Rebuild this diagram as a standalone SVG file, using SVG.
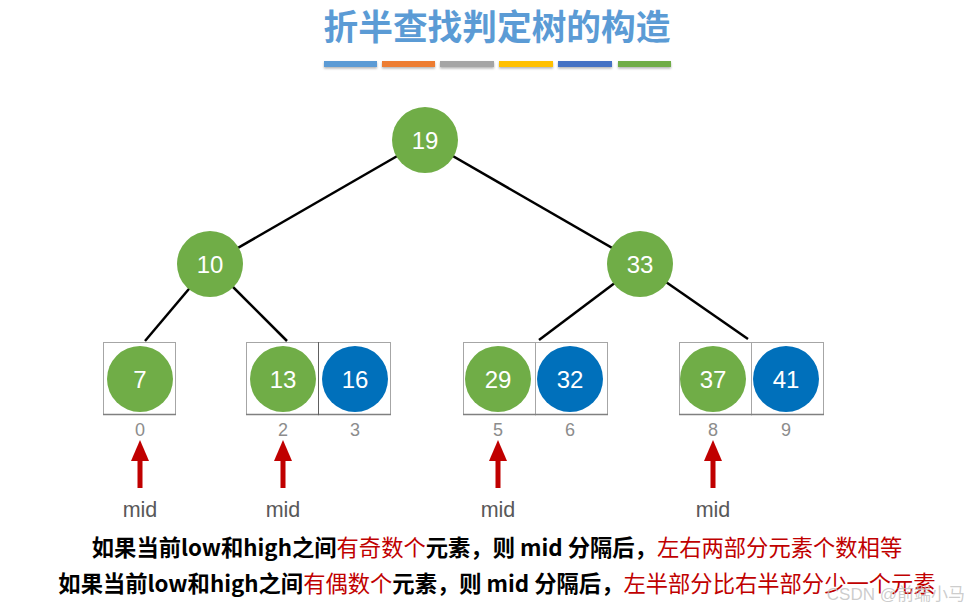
<svg xmlns="http://www.w3.org/2000/svg" width="969" height="611" viewBox="0 0 969 611">
<style>
.g{fill:#70AD47}
.b{fill:#0070BB}
.nt{font-family:"Liberation Sans",Arial,sans-serif;font-size:24px;fill:#fff;text-anchor:middle;dominant-baseline:central}
.box{fill:none;stroke:#A6A6A6;stroke-width:1}
.idx{font-family:"Liberation Sans",Arial,sans-serif;font-size:18px;fill:#8C8C8C;text-anchor:middle}
.mid{font-family:"Liberation Sans",Arial,sans-serif;font-size:21.5px;fill:#595959;text-anchor:middle}
.edge{stroke:#000;stroke-width:2.5;fill:none}
.arr{fill:#C00000}
.txt{font-family:"Noto Sans CJK SC","Liberation Sans",sans-serif;font-size:22.3px;font-weight:bold;fill:#000}
.red{fill:#C00000;font-weight:normal}
</style>
<defs>
<filter id="sh" x="-10%" y="-50%" width="120%" height="250%"><feDropShadow dx="0" dy="1.5" stdDeviation="1" flood-color="#000" flood-opacity="0.3"/></filter>
<g id="arrow"><rect x="-2.5" y="460" width="5" height="28"/><polygon points="0,440 -9,461 9,461"/></g>
</defs>
<rect width="969" height="611" fill="#fff"/>
<text x="497" y="40" font-family="Noto Sans CJK SC,sans-serif" font-size="34.7" font-weight="bold" fill="#5B9BD5" text-anchor="middle">折半查找判定树的构造</text>
<g id="bars" filter="url(#sh)">
<rect x="324" y="61" width="53" height="6" fill="#5B9BD5"/>
<rect x="382" y="61" width="53" height="6" fill="#ED7D31"/>
<rect x="440" y="61" width="54" height="6" fill="#A5A5A5"/>
<rect x="499" y="61" width="54" height="6" fill="#FFC000"/>
<rect x="558" y="61" width="54" height="6" fill="#4472C4"/>
<rect x="618" y="61" width="53" height="6" fill="#70AD47"/>
</g>
<g id="connectors">
<line class="edge" x1="425" y1="140" x2="210" y2="264"/>
<line class="edge" x1="425" y1="140" x2="640" y2="264"/>
<line class="edge" x1="210" y1="264" x2="145" y2="341"/>
<line class="edge" x1="210" y1="264" x2="287" y2="341"/>
<line class="edge" x1="640" y1="264" x2="539" y2="340"/>
<line class="edge" x1="640" y1="264" x2="748" y2="339"/>
</g>
<g id="node-19"><circle class="g" cx="425" cy="140" r="33"/><text class="nt" x="425" y="140">19</text></g>
<g id="node-10"><circle class="g" cx="210" cy="264" r="33"/><text class="nt" x="210" y="264">10</text></g>
<g id="node-33"><circle class="g" cx="640" cy="264" r="33"/><text class="nt" x="640" y="264">33</text></g>
<g id="cell-0"><rect class="box" x="103.5" y="342.5" width="72" height="72"/><line x1="103" y1="414.5" x2="176" y2="414.5" stroke="#808080" stroke-width="1.3"/><circle class="g" cx="140" cy="379" r="33"/><text class="nt" x="140" y="379">7</text><text class="idx" x="140" y="436">0</text></g>
<g id="cell-2"><rect class="box" x="246.5" y="342.5" width="72" height="72"/><line x1="246" y1="414.5" x2="319" y2="414.5" stroke="#808080" stroke-width="1.3"/><circle class="g" cx="283" cy="379" r="33"/><text class="nt" x="283" y="379">13</text><text class="idx" x="283" y="436">2</text></g>
<g id="cell-3"><rect class="box" x="318.5" y="342.5" width="72" height="72"/><line x1="318" y1="414.5" x2="391" y2="414.5" stroke="#808080" stroke-width="1.3"/><line x1="318.5" y1="342" x2="318.5" y2="415" stroke="#606060" stroke-width="1"/><circle class="b" cx="355" cy="379" r="33"/><text class="nt" x="355" y="379">16</text><text class="idx" x="355" y="436">3</text></g>
<g id="cell-5"><rect class="box" x="463.5" y="342.5" width="72" height="72"/><line x1="463" y1="414.5" x2="536" y2="414.5" stroke="#808080" stroke-width="1.3"/><circle class="g" cx="498" cy="379" r="33"/><text class="nt" x="498" y="379">29</text><text class="idx" x="498" y="436">5</text></g>
<g id="cell-6"><rect class="box" x="535.5" y="342.5" width="72" height="72"/><line x1="535" y1="414.5" x2="608" y2="414.5" stroke="#808080" stroke-width="1.3"/><circle class="b" cx="570" cy="379" r="33"/><text class="nt" x="570" y="379">32</text><text class="idx" x="570" y="436">6</text></g>
<g id="cell-8"><rect class="box" x="679.5" y="342.5" width="72" height="72"/><line x1="679" y1="414.5" x2="752" y2="414.5" stroke="#808080" stroke-width="1.3"/><circle class="g" cx="713" cy="379" r="33"/><text class="nt" x="713" y="379">37</text><text class="idx" x="713" y="436">8</text></g>
<g id="cell-9"><rect class="box" x="751.5" y="342.5" width="72" height="72"/><line x1="751" y1="414.5" x2="824" y2="414.5" stroke="#808080" stroke-width="1.3"/><circle class="b" cx="786" cy="379" r="33"/><text class="nt" x="786" y="379">41</text><text class="idx" x="786" y="436">9</text></g>
<g id="mid-markers" class="arr">
<use href="#arrow" x="140"/><use href="#arrow" x="283"/><use href="#arrow" x="498"/><use href="#arrow" x="713"/>
</g>
<g id="mid-labels">
<text class="mid" x="140" y="517">mid</text>
<text class="mid" x="283" y="517">mid</text>
<text class="mid" x="498" y="517">mid</text>
<text class="mid" x="713" y="517">mid</text>
</g>
<text class="txt" x="497" y="556" text-anchor="middle">如果当前low和high之间<tspan class="red">有奇数个</tspan>元素，则 mid 分隔后，<tspan class="red">左右两部分元素个数相等</tspan></text>
<text class="txt" x="497" y="592" text-anchor="middle">如果当前low和high之间<tspan class="red">有偶数个</tspan>元素，则 mid 分隔后，<tspan class="red">左半部分比右半部分少一个元素</tspan></text>
<text x="965" y="600" font-family="Liberation Sans,Noto Sans CJK SC,sans-serif" font-size="17" fill="#BFBFBF" fill-opacity="0.8" text-anchor="end">CSDN @前端小马</text>
</svg>
